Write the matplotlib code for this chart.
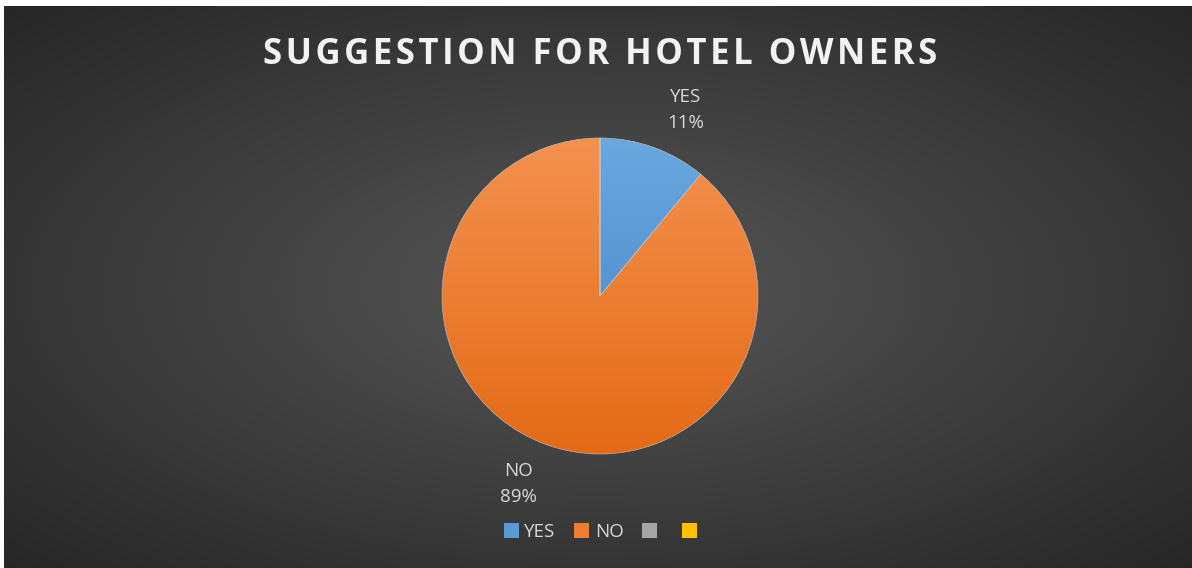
import matplotlib.pyplot as plt
import numpy as np
from matplotlib.patches import Patch

categories = ['YES', 'NO', '', '']
values = [11, 89, 0, 0]
colors_top = ['#6aa8e0', '#f4914f', '#b5b5b5', '#ffd233']
colors_bot = ['#3f80c2', '#e46a16', '#8f8f8f', '#f0b400']
legend_colors = ['#5b9bd5', '#ed7d31', '#a5a5a5', '#ffc000']
title = 'SUGGESTION FOR HOTEL OWNERS'

W, H = 1192, 568
fig = plt.figure(figsize=(W / 100, H / 100), dpi=100, facecolor='white')
ax = fig.add_axes([0, 0, 1, 1])
ax.set_xlim(0, W)
ax.set_ylim(0, H)
ax.axis('off')

# radial background
yy, xx = np.mgrid[0:200, 0:400]
r = np.sqrt(((xx - 200) / 200) ** 2 + ((yy - 100) / 100) ** 2) / np.sqrt(2)
shade = 0.34 - 0.19 * r
bg = np.dstack([shade, shade, shade])
ax.imshow(bg, extent=[4, W, 0, H - 6], aspect='auto', zorder=0)

cx, cy, rad = 600, H - 296, 158
wedges, _ = ax.pie([v if v > 0 else 1e-9 for v in values], colors=legend_colors,
                   startangle=90, counterclock=False, center=(cx, cy), radius=rad,
                   wedgeprops=dict(edgecolor='#c8c8c8', linewidth=0.4))
ax.set_aspect('equal')
ax.set_xlim(0, W)
ax.set_ylim(0, H)

# vertical gradient fill inside each slice
t = np.linspace(0, 1, 256)[:, None]
for w, ct, cb in zip(wedges, colors_top, colors_bot):
    a = np.array(plt.matplotlib.colors.to_rgb(ct))
    b = np.array(plt.matplotlib.colors.to_rgb(cb))
    grad = (a * (1 - t) + b * t)[:, None, :].repeat(2, axis=1)
    im = ax.imshow(grad, extent=[cx - rad, cx + rad, cy - rad, cy + rad],
                   aspect='auto', zorder=1.5)
    im.set_clip_path(w)
    w.set_zorder(2)
    w.set_facecolor('none')

lab_col = '#d9d9d9'
ax.text(686, H - 110, 'YES\n11%', ha='center', va='center', color=lab_col,
        fontsize=13.5, family='Open Sans', linespacing=1.55)
ax.text(518, H - 484, 'NO\n89%', ha='center', va='center', color=lab_col,
        fontsize=13.5, family='Open Sans', linespacing=1.55)

spaced = '\u200a'.join(title)
ax.text(600, H - 55, spaced, ha='center', va='center', color='#f2f2f2',
        fontsize=25, fontweight='bold', family=['Open Sans', 'DejaVu Sans'])

handles = [Patch(facecolor=c, edgecolor='none') for c in legend_colors]
leg = ax.legend(handles, categories, loc='center', bbox_to_anchor=(603 / W, (H - 532) / H),
                ncol=4, frameon=False, handlelength=0.8, handleheight=0.8,
                handletextpad=0.3, columnspacing=1.0, labelcolor=lab_col,
                prop={'family': 'Open Sans', 'size': 13.5})

fig.savefig('out.png', dpi=100, facecolor='white')
